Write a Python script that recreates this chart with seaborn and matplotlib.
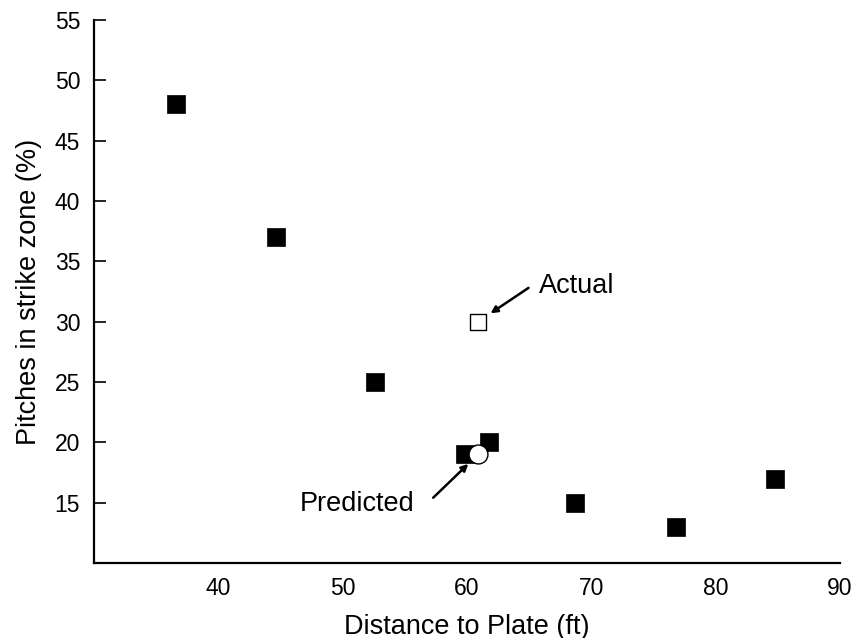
import matplotlib
matplotlib.use("Agg")
import matplotlib.pyplot as plt
import seaborn as sns
import pandas as pd

# Data
distance_ft = [36.6, 44.6, 52.6, 59.8, 61.8, 68.7, 76.8, 84.8]
strike_pct = [48, 37, 25, 19, 20, 15, 13, 17]
actual_x, actual_y = [60.9], [30]
predicted_x, predicted_y = [60.9], [19]
x_ticks = [40, 50, 60, 70, 80, 90]
y_ticks = [15, 20, 25, 30, 35, 40, 45, 50, 55]

sns.set_style("white")
plt.rcParams["font.family"] = ["Liberation Sans", "DejaVu Sans"]
plt.rcParams.update({"text.color": "black", "axes.labelcolor": "black",
                     "xtick.color": "black", "ytick.color": "black"})

fig = plt.figure(figsize=(8.58, 6.38), dpi=100)
ax = fig.add_axes([0.1096, 0.1176, 0.979 - 0.1096, 0.9687 - 0.1176])

df = pd.DataFrame({"x": distance_ft, "y": strike_pct})
sns.scatterplot(data=df, x="x", y="y", marker="s", s=150, color="black",
                edgecolor="black", linewidth=0.5, ax=ax, zorder=3, legend=False)
sns.scatterplot(x=actual_x, y=actual_y, marker="s", s=130, color="white",
                edgecolor="black", linewidth=1.0, ax=ax, zorder=4, legend=False)
sns.scatterplot(x=predicted_x, y=predicted_y, marker="o", s=185, color="white",
                edgecolor="black", linewidth=1.0, ax=ax, zorder=5, legend=False)

ax.set_xlim(30, 90)
ax.set_ylim(10, 55)
ax.set_xticks(x_ticks)
ax.set_yticks(y_ticks)
ax.set_xticklabels([str(t) for t in x_ticks])
ax.set_yticklabels([str(t) for t in y_ticks])

for side in ["top", "right"]:
    ax.spines[side].set_visible(False)
for side in ["left", "bottom"]:
    ax.spines[side].set_color("black")
    ax.spines[side].set_linewidth(1.6)

ax.tick_params(axis="y", direction="in", length=8.5, width=1.2, color="black",
               labelsize=16.5, labelcolor="black", pad=10, left=True)
ax.tick_params(axis="x", length=0, labelsize=16.5, labelcolor="black",
               pad=10, bottom=True)

ax.set_xlabel("Distance to Plate (ft)", fontsize=19.5, labelpad=10,
              color="black")
ax.set_ylabel("Pitches in strike zone (%)", fontsize=19.5, labelpad=9,
              color="black")

arrow = dict(arrowstyle="-|>", color="black", lw=1.8, mutation_scale=10,
             shrinkA=0)
ax.annotate("", xy=(actual_x[0], actual_y[0]), xytext=(36.2, 24.3),
            textcoords="offset points",
            arrowprops=dict(arrow, shrinkB=10.7), zorder=6)
ax.annotate("Actual", xy=(actual_x[0], actual_y[0]), xytext=(43.4, 25.7),
            textcoords="offset points", ha="left", va="center", fontsize=19.5,
            color="black")
ax.annotate("", xy=(predicted_x[0], predicted_y[0]), xytext=(-32.4, -31.2),
            textcoords="offset points",
            arrowprops=dict(arrow, shrinkB=9.9), zorder=6)
ax.annotate("Predicted", xy=(predicted_x[0], predicted_y[0]),
            xytext=(-86.9, -36), textcoords="offset points",
            ha="center", va="center", fontsize=19.5, color="black")

fig.savefig("out.png", dpi=100)
